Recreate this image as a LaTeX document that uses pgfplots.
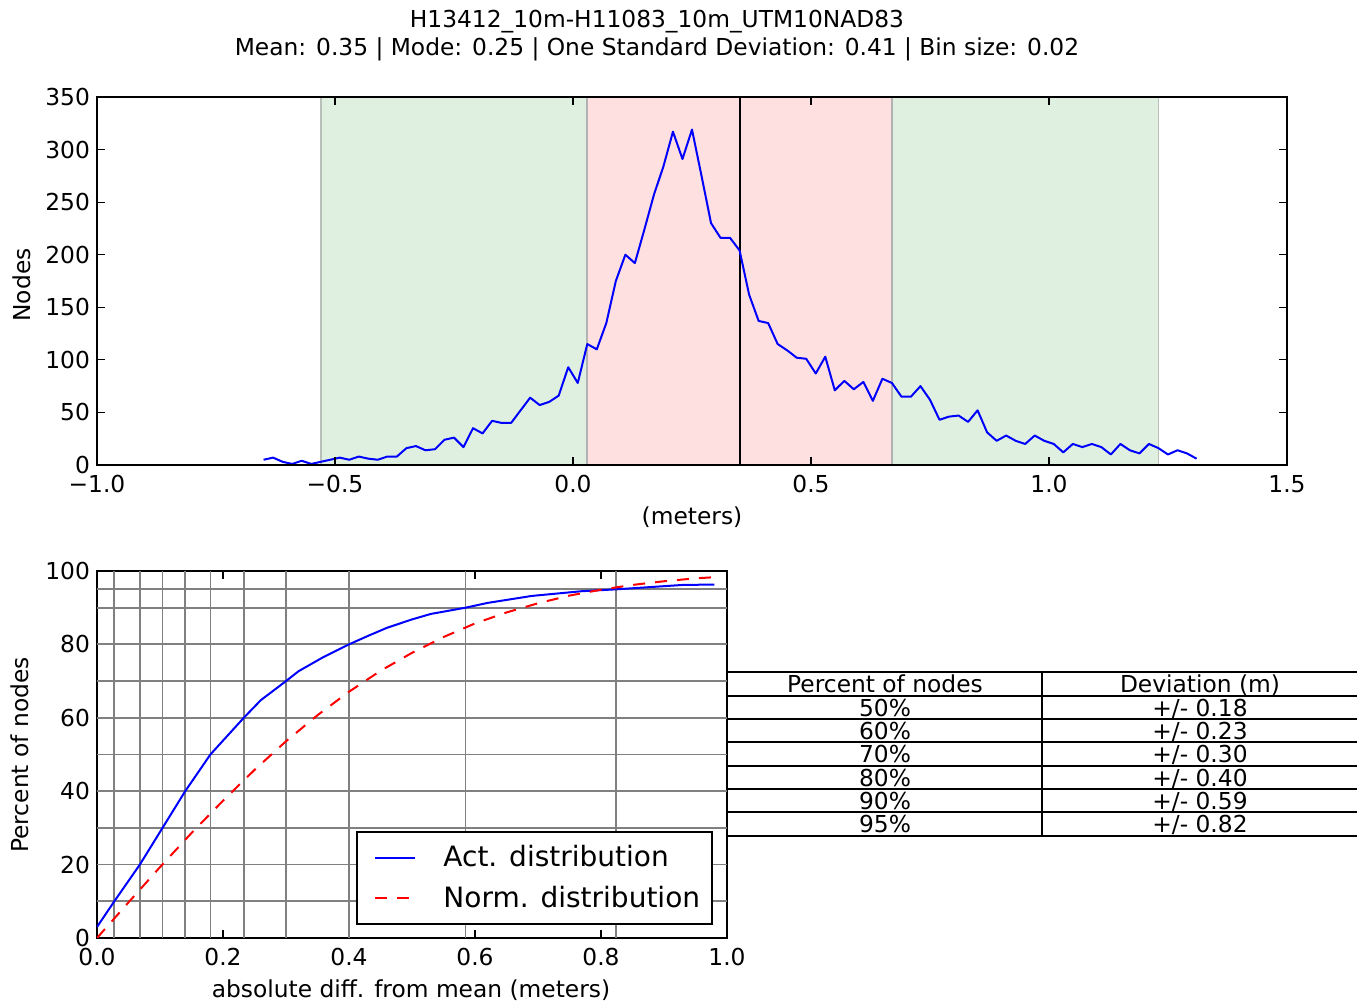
\documentclass[border=0pt]{standalone}
\usepackage{fontspec}
\setmainfont{DejaVu Sans}
\usepackage{pgfplots}
\usepackage{pgfplotstable}
\pgfplotsset{compat=1.18}
\definecolor{spangreen}{RGB}{224,240,224}
\definecolor{spanpink}{RGB}{255,224,224}
\definecolor{spanedge}{RGB}{185,192,185}
\newcommand{\fs}{\fontsize{11.67pt}{14pt}\selectfont}
\newcommand{\fl}{\fontsize{14pt}{17pt}\selectfont}

\pgfplotstableread{
x y
-0.65 5
-0.63 7
-0.61 3
-0.59 1
-0.57 4
-0.55 1
-0.53 3
-0.51 5
-0.49 7
-0.47 5
-0.45 8
-0.43 6
-0.41 5
-0.39 8
-0.37 8
-0.35 16
-0.33 18
-0.31 14
-0.29 15
-0.27 24
-0.25 26
-0.23 17
-0.21 35
-0.19 30
-0.17 42
-0.15 40
-0.13 40
-0.11 52
-0.09 64
-0.07 57
-0.05 60
-0.03 66
-0.01 93
0.01 78
0.03 115
0.05 110
0.07 135
0.09 175
0.11 200
0.13 192
0.15 224
0.17 257
0.19 284
0.21 317
0.23 291
0.25 319
0.27 275
0.29 230
0.31 216
0.33 216
0.35 204
0.37 162
0.39 137
0.41 135
0.43 115
0.45 109
0.47 102
0.49 101
0.51 87
0.53 103
0.55 71
0.57 80
0.59 72
0.61 79
0.63 61
0.65 82
0.67 78
0.69 65
0.71 65
0.73 75
0.75 62
0.77 43
0.79 46
0.81 47
0.83 41
0.85 52
0.87 31
0.89 23
0.91 28
0.93 23
0.95 20
0.97 28
0.99 23
1.01 20
1.03 12
1.05 20
1.07 17
1.09 20
1.11 17
1.13 10
1.15 20
1.17 14
1.19 11
1.21 20
1.23 16
1.25 10
1.27 14
1.29 11
1.31 6
}\histdata

\pgfplotstableread{
x y
0 3
0.0275 10
0.068 20
0.104 30
0.14 40
0.18 50
0.233 60
0.26 64.8
0.30 70
0.32 72.7
0.36 76.6
0.40 80
0.43 82.3
0.46 84.5
0.50 86.8
0.53 88.3
0.585 90
0.62 91.3
0.69 93.2
0.77 94.5
0.824 95
0.93 96.2
0.98 96.3
}\actdata

\pgfplotstableread{
x y
0 0
0.05 9.7
0.10 19.3
0.15 28.6
0.20 37.4
0.25 45.8
0.30 53.6
0.35 60.7
0.40 67.1
0.45 72.8
0.50 77.7
0.55 82.0
0.60 85.7
0.65 88.7
0.70 91.2
0.75 93.3
0.80 94.9
0.85 96.2
0.90 97.2
0.95 98.0
0.98 98.3
}\normdata

\pgfplotsset{
  mpl/.style={
    scale only axis,
    anchor=south west,
    axis line style={line width=1pt},
    every tick/.style={black, line width=0.6pt},
    major tick length=3.8pt,
    tick align=inside,
    tick label style={font=\fs},
    /pgf/number format/assume math mode=true,
    xticklabel style={yshift=-1.5pt},
  }
}

\begin{document}
\begin{tikzpicture}
\useasboundingbox (0,0) rectangle (678.5pt,502.5pt);

% Title
\node[font=\fs, align=center] at (328.5pt,484.5pt) {H13412\_10m-H11083\_10m\_UTM10NAD83\\Mean: 0.35 | Mode: 0.25 | One Standard Deviation: 0.41 | Bin size: 0.02};

% Top histogram axis
\begin{axis}[mpl,
  at={(48.5pt,270pt)}, width=595pt, height=184pt,
  xmin=-1, xmax=1.5, ymin=0, ymax=350,
  xtick={-1,-0.5,0,0.5,1,1.5},
  xticklabels={−1.0,−0.5,0.0,0.5,1.0,1.5},
  ytick={0,50,100,150,200,250,300,350},
  axis on top,
]
\addplot[draw=none, fill=spangreen] coordinates {(-0.53,0) (-0.53,350) (0.03,350) (0.03,0)} -- cycle;
\addplot[draw=none, fill=spangreen] coordinates {(0.67,0) (0.67,350) (1.23,350) (1.23,0)} -- cycle;
\addplot[draw=none, fill=spanpink] coordinates {(0.03,0) (0.03,350) (0.67,350) (0.67,0)} -- cycle;
\addplot[spanedge, line width=0.8pt] coordinates {(-0.53,0) (-0.53,350)};
\addplot[spanedge, line width=0.8pt] coordinates {(1.23,0) (1.23,350)};
\addplot[black!30, line width=0.8pt] coordinates {(0.03,0) (0.03,350)};
\addplot[black!30, line width=0.8pt] coordinates {(0.67,0) (0.67,350)};
\addplot[black, line width=1pt] coordinates {(0.35,0) (0.35,350)};
\addplot[blue, line width=1pt, line join=round] table[x=x, y=y] {\histdata};
\end{axis}
\node[font=\fs, rotate=90] at (11pt,360pt) {Nodes};
\node[font=\fs] at (346pt,244pt) {(meters)};

% Bottom cumulative axis
\begin{axis}[mpl,
  at={(48.5pt,33.5pt)}, width=315pt, height=183.5pt,
  xmin=0, xmax=1, ymin=0, ymax=100,
  xtick={0,0.2,0.4,0.6,0.8,1.0},
  xticklabels={0.0,0.2,0.4,0.6,0.8,1.0},
  ytick={0,20,40,60,80,100},
  legend style={at={(0.978,0.035)}, anchor=south east, draw=black, line width=1pt,
    font=\fl, fill=white, inner xsep=4.5pt, inner ysep=5pt, row sep=4pt,
    column sep=12pt, nodes={inner xsep=1.5pt}},
  legend cell align=left,
  legend image code/.code={\path (0pt,0pt); \draw[#1] (4pt,0pt) -- (24pt,0pt);},
]
\pgfplotsinvokeforeach{0.0275,0.068,0.104,0.14,0.18,0.233,0.30,0.40,0.585,0.824}{
  \addplot[gray, line width=0.9pt, forget plot] coordinates {(#1,0) (#1,100)};
}
\pgfplotsinvokeforeach{10,20,30,40,50,60,70,80,90,95}{
  \addplot[gray, line width=0.9pt, forget plot] coordinates {(0,#1) (1,#1)};
}
\addplot[blue, line width=1pt] table[x=x, y=y] {\actdata};
\addlegendentry{Act. distribution}
\addplot[red, line width=1pt, dash pattern=on 6pt off 5pt] table[x=x, y=y] {\normdata};
\addlegendentry{Norm. distribution}
\end{axis}
\node[font=\fs, rotate=90] at (10pt,125pt) {Percent of nodes};
\node[font=\fs] at (205.5pt,7.5pt) {absolute diff. from mean (meters)};

% Table
\foreach \yy in {166.5,154.5,143,131.5,119.5,108,96.5,84.5}{
  \draw[line width=1pt] (363.5pt,\yy pt) -- (678.5pt,\yy pt);
}
\draw[line width=1pt] (521pt,166.5pt) -- (521pt,84.5pt);
\foreach \yy/\a/\b in {160.5/{Percent of nodes}/{Deviation (m)}, 148.5/{50\%}/{+/- 0.18}, 137/{60\%}/{+/- 0.23}, 125.5/{70\%}/{+/- 0.30}, 113.75/{80\%}/{+/- 0.40}, 102.25/{90\%}/{+/- 0.59}, 90.5/{95\%}/{+/- 0.82}}{
  \node[font=\fs, anchor=base, inner sep=0pt] at (442.5pt,\yy pt-4.4pt) {\a};
  \node[font=\fs, anchor=base, inner sep=0pt] at (600pt,\yy pt-4.4pt) {\b};
}
\end{tikzpicture}
\end{document}
